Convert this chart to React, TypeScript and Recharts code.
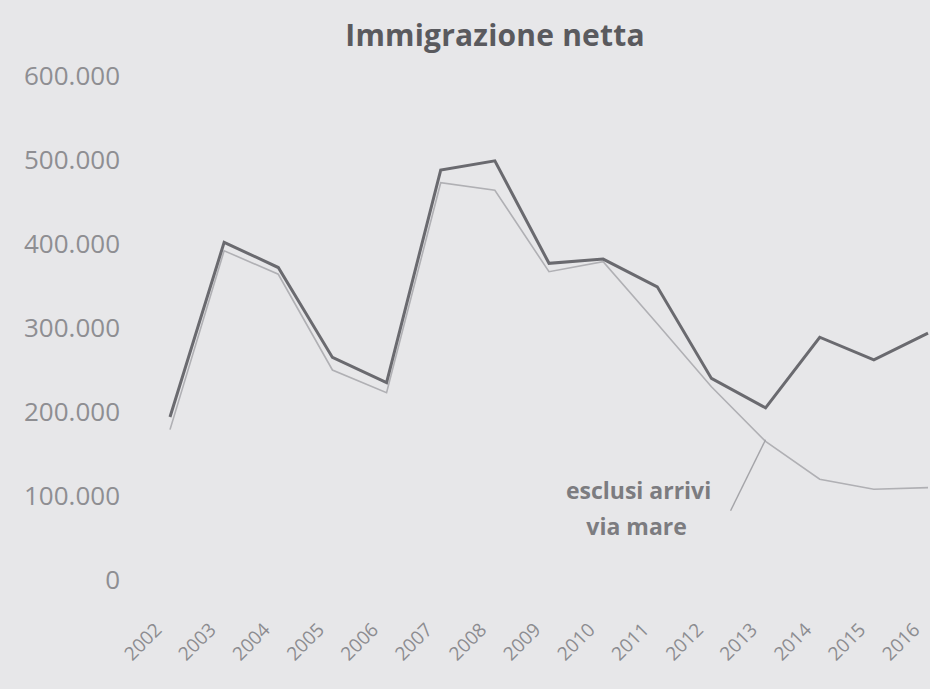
import React from "react";
import { LineChart, Line, XAxis, YAxis, ReferenceDot } from "recharts";

const years = ["2002", "2003", "2004", "2005", "2006", "2007", "2008", "2009", "2010", "2011", "2012", "2013", "2014", "2015", "2016"];
const nettaValues = [194000, 402000, 372000, 265000, 235000, 488000, 499000, 377000, 382000, 349000, 240000, 205000, 289000, 262000, 294000];
const esclusiValues = [179000, 392000, 364000, 250000, 223000, 473000, 464000, 367000, 379000, 305000, 230000, 165000, 120000, 108000, 110000];
const yTicks = [0, 100000, 200000, 300000, 400000, 500000, 600000];
const titleText = "Immigrazione netta";
const annotationLines = ["esclusi arrivi", "via mare"];
const annotationYear = "2013";

const data = years.map((y, i) => ({ year: y, netta: nettaValues[i], esclusi: esclusiValues[i] }));

const FONT = "'Open Sans', Lato, sans-serif";

const fmt = (v: number) => (v === 0 ? "0" : v.toLocaleString("it-IT").replace(/,/g, "."));

const YearTick = (props: any) => {
  const { x, y, payload } = props;
  return (
    <g transform={`translate(${x - 12},${y + 38})`}>
      <text transform="rotate(-45)" textAnchor="end" dominantBaseline="central" fill="#8c8c90" fontSize={19} fontFamily={FONT}>
        {payload.value}
      </text>
    </g>
  );
};

const Annotation = (props: any) => {
  const { cx, cy } = props;
  if (cx == null || cy == null) return null;
  return (
    <g>
      <line x1={cx} y1={cy} x2={cx - 35} y2={cy + 71} stroke="#a4a4a8" strokeWidth={1.4} />
      <text x={cx - 127} y={cy + 59} textAnchor="middle" fill="#7c7c80" fontSize={23} fontWeight={700} fontFamily={FONT}>
        {annotationLines[0]}
      </text>
      <text x={cx - 129} y={cy + 95} textAnchor="middle" fill="#7c7c80" fontSize={23} fontWeight={700} fontFamily={FONT}>
        {annotationLines[1]}
      </text>
    </g>
  );
};

export default function App() {
  const annIdx = years.indexOf(annotationYear);
  return (
    <div style={{ position: "absolute", left: 0, top: 0, width: 930, height: 689, background: "#e7e7e9", overflow: "hidden" }}>
      <div
        style={{
          position: "absolute",
          top: 14,
          left: 295,
          width: 400,
          textAlign: "center",
          fontFamily: FONT,
          fontWeight: 700,
          fontSize: 30,
          letterSpacing: 0.2,
          color: "#5a5a5e",
        }}
      >
        {titleText}
      </div>
      <LineChart width={930} height={689} data={data} margin={{ top: 76, right: 2, bottom: 29, left: 0 }}>
        <XAxis dataKey="year" height={80} tick={<YearTick />} axisLine={false} tickLine={false} interval={0} padding={{ left: 0, right: 0 }} />
        <YAxis
          domain={[0, 600000]}
          ticks={yTicks}
          width={170}
          tickFormatter={fmt}
          axisLine={false}
          tickLine={false}
          tickSize={0}
          tickMargin={50}
          tick={{ fill: "#8e8e92", fontSize: 26, fontFamily: FONT }}
        />
        <Line type="linear" dataKey="esclusi" stroke="#b0b0b4" strokeWidth={1.6} dot={false} isAnimationActive={false} />
        <Line type="linear" dataKey="netta" stroke="#6a6a6f" strokeWidth={3} dot={false} isAnimationActive={false} />
        <ReferenceDot x={annotationYear} y={esclusiValues[annIdx] + 2000} r={0} shape={<Annotation />} ifOverflow="visible" />
      </LineChart>
    </div>
  );
}
